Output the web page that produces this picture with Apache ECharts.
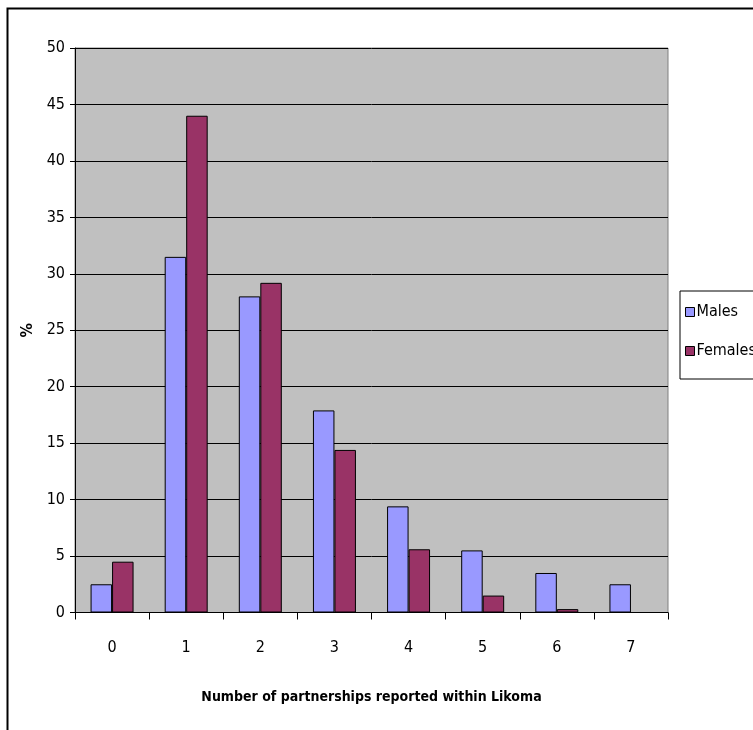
<!DOCTYPE html>
<html>
<head>
<meta charset="utf-8">
<script src="https://cdn.jsdelivr.net/npm/echarts@6/dist/echarts.min.js"></script>
<style>
  html, body { margin: 0; padding: 0; background: #ffffff; }
  #chart { width: 753px; height: 730px; }
</style>
</head>
<body>
<div id="chart"></div>
<script>
// Partnerships reported within Likoma, by sex (% of respondents)
var categories = ['0', '1', '2', '3', '4', '5', '6', '7'];
var males = [2.5, 31.5, 28.0, 17.9, 9.4, 5.5, 3.5, 2.5];
var females = [4.5, 44.0, 29.2, 14.4, 5.6, 1.5, 0.3, null];
var seriesNames = ['Males', 'Females'];
var xTitle = 'Number of partnerships reported within Likoma';
var yTitle = '%';

var FONT = '"Liberation Sans Narrow", "Arial Narrow", "DejaVu Sans Condensed", "Liberation Sans", Arial, sans-serif';

var chart = echarts.init(document.getElementById('chart'), null, { renderer: 'canvas' });

chart.setOption({
  animation: false,
  backgroundColor: '#ffffff',
  graphic: [{
    type: 'rect',
    shape: { x: 7.5, y: 8.5, width: 800, height: 800 },
    style: { fill: 'none', stroke: '#000000', lineWidth: 2 },
    silent: true,
    z: -1
  }],
  grid: {
    left: 75, right: 85, top: 48, bottom: 117.5,
    show: true,
    backgroundColor: '#C0C0C0',
    borderColor: '#808080',
    borderWidth: 1
  },
  legend: {
    orient: 'vertical',
    left: 680, top: 291,
    backgroundColor: '#ffffff',
    borderColor: '#000000',
    borderWidth: 1,
    borderRadius: 0,
    padding: [13, 20, 20, 5],
    itemGap: 23,
    itemWidth: 9, itemHeight: 9,
    icon: 'rect',
    itemStyle: { borderColor: '#000000', borderWidth: 1 },
    textStyle: { fontFamily: FONT, fontSize: 16, color: '#000000', padding: [0, 0, 0, -3] },
    data: seriesNames
  },
  xAxis: {
    type: 'category',
    data: categories,
    name: xTitle,
    nameLocation: 'middle',
    nameGap: 78,
    nameTextStyle: { fontFamily: FONT, fontSize: 14, fontWeight: 'bold', color: '#000000' },
    axisLine: { lineStyle: { color: '#000000', width: 1 } },
    axisTick: { show: true, length: 7, lineStyle: { color: '#000000' } },
    axisLabel: { fontFamily: FONT, fontSize: 16, color: '#000000', margin: 27 },
    splitLine: { show: false }
  },
  yAxis: {
    type: 'value',
    min: 0, max: 50, interval: 5,
    name: yTitle,
    nameLocation: 'middle',
    nameGap: 33,
    nameTextStyle: { fontFamily: FONT, fontSize: 16, fontWeight: 'bold', color: '#000000' },
    axisLine: { show: true, lineStyle: { color: '#000000', width: 1 } },
    axisTick: { show: true, length: 5, lineStyle: { color: '#000000' } },
    axisLabel: { fontFamily: FONT, fontSize: 16, color: '#000000', margin: 10 },
    splitLine: { show: true, lineStyle: { color: '#000000', width: 1 } }
  },
  series: [{
    name: seriesNames[0],
    type: 'bar',
    data: males,
    barGap: '0%',
    barCategoryGap: '42%',
    itemStyle: { color: '#9999FF', borderColor: '#000000', borderWidth: 1 }
  }, {
    name: seriesNames[1],
    type: 'bar',
    data: females,
    barGap: '0%',
    barCategoryGap: '42%',
    itemStyle: { color: '#993366', borderColor: '#000000', borderWidth: 1 }
  }]
});
</script>
</body>
</html>
